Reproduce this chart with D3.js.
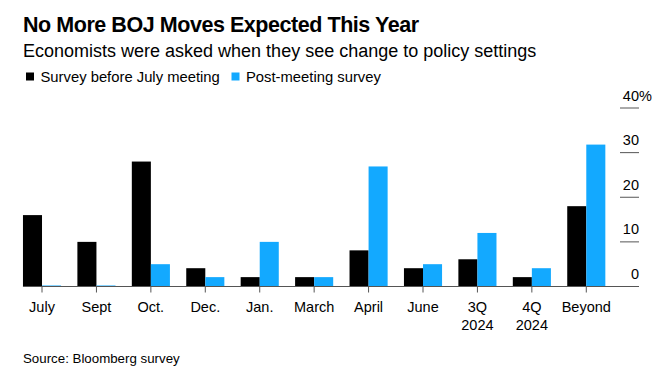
<!DOCTYPE html>
<html>
<head>
<meta charset="utf-8">
<script src="https://cdn.jsdelivr.net/npm/d3@7"></script>
<style>
  html, body { margin: 0; padding: 0; background: #fff; }
  svg { display: block; font-family: "Liberation Sans", Arial, sans-serif; }
</style>
</head>
<body>
<svg id="chart" width="660" height="385"></svg>
<script>
const categories = ["July", "Sept", "Oct.", "Dec.", "Jan.", "March", "April", "June", "3Q\n2024", "4Q\n2024", "Beyond"];
const seriesNames = ["Survey before July meeting", "Post-meeting survey"];
const beforeValues = [16, 10, 28, 4.1, 2.1, 2.1, 8.1, 4.1, 6.1, 2.1, 18];
const postValues = [0, 0, 5, 2.1, 10, 2.1, 26.9, 5, 12, 4.1, 31.8];
const yTicks = [0, 10, 20, 30, 40];
const colors = ["#000000", "#13a9ff"];

const svg = d3.select("#chart");

// Titles
svg.append("text").attr("x", 23).attr("y", 31.5)
  .attr("font-size", 21.5).attr("font-weight", "bold").attr("fill", "#000")
  .attr("letter-spacing", -0.45)
  .text("No More BOJ Moves Expected This Year");
svg.append("text").attr("x", 23).attr("y", 57)
  .attr("font-size", 18).attr("fill", "#000")
  .text("Economists were asked when they see change to policy settings");

// Legend
const legendX = [26, 231.5];
seriesNames.forEach((name, i) => {
  svg.append("rect").attr("x", legendX[i]).attr("y", 72.5).attr("width", 8).attr("height", 8).attr("fill", colors[i]);
  svg.append("text").attr("x", legendX[i] + 14.5).attr("y", 81.5)
    .attr("font-size", 14.8).attr("fill", "#000").text(name);
});

// Scales
const x = d3.scaleBand().domain(categories).range([14.8, 613.5]).paddingInner(0.3).paddingOuter(0.15);
const xs = d3.scaleBand().domain([0, 1]).range([0, x.bandwidth()]);
const y = d3.scaleLinear().domain([0, 40]).range([286.5, 108]);

// Y axis (right)
const yAxis = svg.append("g");
yTicks.forEach(t => {
  yAxis.append("line").attr("x1", 620).attr("x2", 639)
    .attr("y1", y(t)).attr("y2", y(t)).attr("stroke", "#555").attr("stroke-width", 1);
  yAxis.append("text").attr("x", 639).attr("y", y(t) - 7.5)
    .attr("text-anchor", "end").attr("font-size", 14.5).attr("fill", "#000").text(t);
  if (t === 40) {
    yAxis.append("text").attr("x", 639).attr("y", y(t) - 7.5)
      .attr("font-size", 14.5).attr("fill", "#000").text("%");
  }
});

// Bars
const series = [beforeValues, postValues];
series.forEach((vals, si) => {
  svg.append("g").selectAll("rect").data(vals).join("rect")
    .attr("x", (d, i) => x(categories[i]) + xs(si))
    .attr("width", xs.bandwidth())
    .attr("y", d => Math.min(y(d), y(0) - 1))
    .attr("height", d => Math.max(1, y(0) - y(d)))
    .attr("fill", colors[si]);
});

// X axis baseline + ticks
svg.append("line").attr("x1", x(categories[0])).attr("x2", 639)
  .attr("y1", y(0)).attr("y2", y(0)).attr("stroke", "#555").attr("stroke-width", 1);
const xg = svg.append("g");
categories.forEach(c => {
  const cx = x(c) + x.bandwidth() / 2;
  xg.append("line").attr("x1", cx).attr("x2", cx).attr("y1", y(0)).attr("y2", y(0) + 6)
    .attr("stroke", "#555").attr("stroke-width", 1);
  const t = xg.append("text").attr("text-anchor", "middle").attr("font-size", 14.5).attr("fill", "#000");
  c.split("\n").forEach((line, li) => {
    t.append("tspan").attr("x", cx).attr("y", 311.5 + li * 18.5).text(line);
  });
});

// Source
svg.append("text").attr("x", 23).attr("y", 363)
  .attr("font-size", 13.3).attr("fill", "#000").text("Source: Bloomberg survey");
</script>
</body>
</html>
